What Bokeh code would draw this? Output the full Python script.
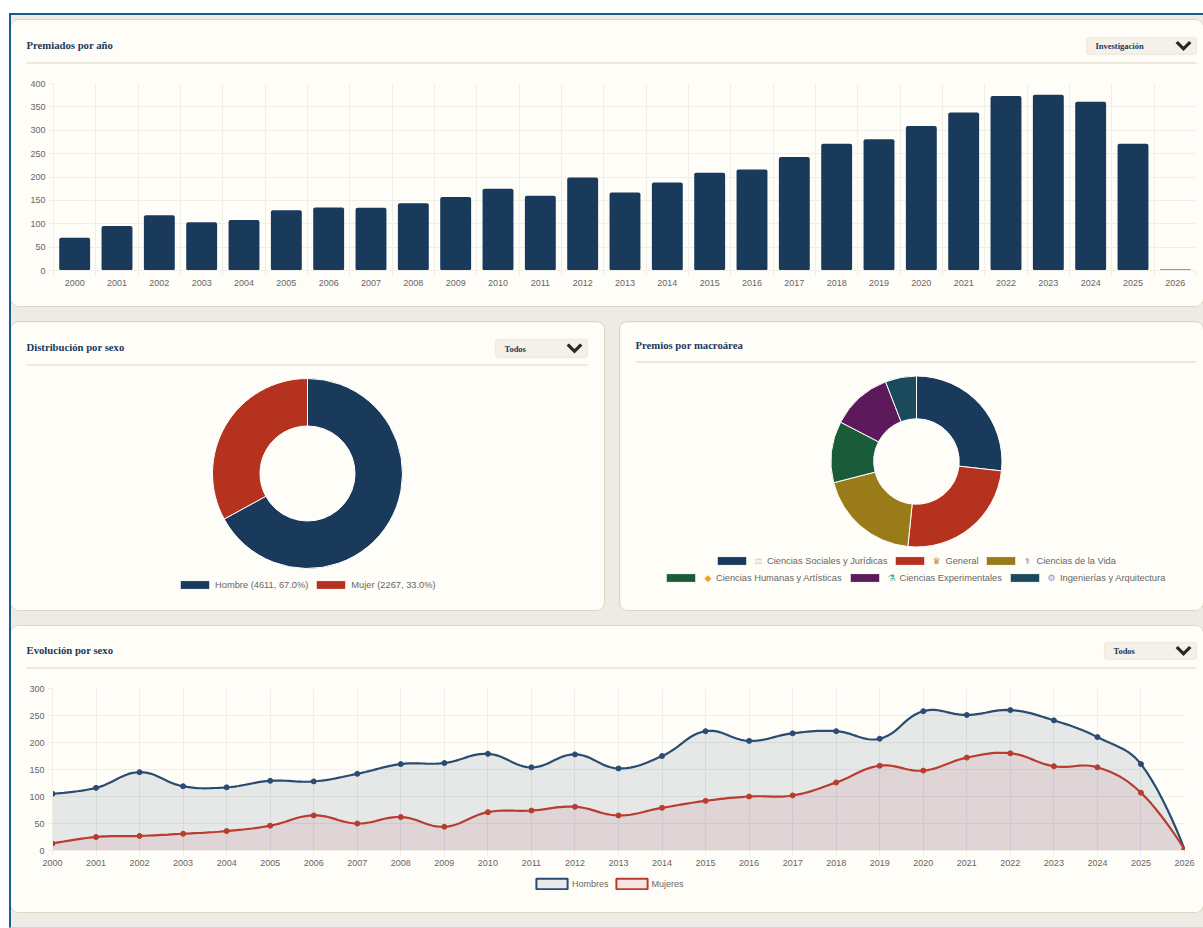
import numpy as np
from bokeh.embed import file_html
from bokeh.layouts import column, row
from bokeh.models import (BoxAnnotation, FixedTicker, Label, Legend, LegendItem,
                          PolyAnnotation, Range1d, NumeralTickFormatter)
from bokeh.plotting import figure
from bokeh.resources import INLINE

# ---------- data ----------
years = list(range(2000, 2027))
premiados = [70, 95, 118, 103, 108, 129, 135, 134, 144, 157, 175, 160, 199, 167, 188,
             209, 216, 243, 271, 281, 309, 338, 373, 376, 361, 271, 2]
hombres = [105, 116, 145, 119, 117, 129, 128, 142, 160, 162, 179, 154, 178, 152, 175,
           221, 203, 217, 221, 207, 258, 251, 260, 241, 210, 160, 2]
mujeres = [13, 25, 27, 31, 36, 46, 65, 50, 62, 44, 71, 74, 81, 65, 79,
           92, 100, 102, 126, 157, 148, 172, 180, 156, 154, 107, 2]
sexo_labels = ["Hombre (4611, 67.0%)", "Mujer (2267, 33.0%)"]
sexo_values = [4611, 2267]
area_labels = ["Ciencias Sociales y Jurídicas", "General", "Ciencias de la Vida",
               "Ciencias Humanas y Artísticas", "Ciencias Experimentales", "Ingenierías y Arquitectura"]
area_values = [1840, 1710, 1334, 798, 791, 405]
area_icons = ["⚖", "♛", "⚕", "◆", "⚗", "⚙"]
bar_yticks = [0, 50, 100, 150, 200, 250, 300, 350, 400]
line_yticks = [0, 50, 100, 150, 200, 250, 300]

NAVY, RED = "#1a3a5c", "#b5321f"
area_colors = [NAVY, RED, "#9a7b1a", "#1a5c3a", "#5c1a5c", "#1a4a5c"]
icon_colors = ["#e8bd85", "#c8862a", "#6f6fd0", "#e8a030", "#48a8a0", "#9a8ad0"]
sexo_colors = [NAVY, RED]
CARD, RULE, GRID, TXT = "#fffdf8", "#ddd5c2", "#efeee9", "#666666"
SERIF, SANS = "Liberation Serif", "Liberation Sans"
CARD_CSS = [":host{border-radius:8px;overflow:hidden;box-shadow:0 0 0 1px #ddd5c2}"]


def deco(p, fl, fb, title, tx, ty, rule_x0, rule_x1, rule_y, dd=None):
    """Title, rule and dropdown in page pixels; fl/fb are the frame's left and bottom on the page."""
    X = lambda v: v - fl
    Y = lambda v: fb - v
    p.add_layout(Label(x=X(tx), y=Y(ty), x_units="screen", y_units="screen", text=title,
                       text_font=SERIF, text_font_style="bold", text_font_size="10.7px",
                       text_color=NAVY, text_baseline="middle"))
    p.add_layout(BoxAnnotation(left=X(rule_x0), right=X(rule_x1), top=Y(rule_y), bottom=Y(rule_y + 1),
                               left_units="screen", right_units="screen", top_units="screen",
                               bottom_units="screen", fill_color=RULE, fill_alpha=1, line_alpha=0))
    if dd:
        x0, x1, y0, y1, text = dd
        p.add_layout(BoxAnnotation(left=X(x0), right=X(x1), top=Y(y0), bottom=Y(y1),
                                   left_units="screen", right_units="screen", top_units="screen",
                                   bottom_units="screen", fill_color="#f5f0e8", fill_alpha=1,
                                   line_color=RULE, line_width=1.5, border_radius=3))
        p.add_layout(Label(x=X(x0 + 9), y=Y((y0 + y1) / 2), x_units="screen", y_units="screen", text=text,
                           text_font=SERIF, text_font_style="bold", text_font_size="8.5px",
                           text_color=NAVY, text_baseline="middle"))
        cx, cy = x1 - 13, (y0 + y1) / 2
        xs = [cx - 8, cx - 5.5, cx, cx + 5.5, cx + 8, cx]
        ys = [cy - 3, cy - 5, cy + 0.5, cy - 5, cy - 3, cy + 5]
        p.add_layout(PolyAnnotation(xs=[X(v) for v in xs], ys=[Y(v) for v in ys],
                                    xs_units="screen", ys_units="screen",
                                    fill_color="#2b2620", fill_alpha=1, line_alpha=0))


def style_axes(p, yticks):
    for ax in (p.xaxis[0], p.yaxis[0]):
        ax.axis_line_color = GRID
        ax.major_tick_line_color = GRID
        ax.minor_tick_line_color = None
        ax.major_tick_out = 5
        ax.major_tick_in = 0
        ax.major_label_text_font = SANS
        ax.major_label_text_font_size = "9px"
        ax.major_label_text_color = TXT
    p.yaxis[0].ticker = FixedTicker(ticks=yticks)
    p.yaxis[0].major_label_standoff = 3
    p.xaxis[0].major_label_standoff = 4
    p.xaxis[0].formatter = NumeralTickFormatter(format="0")
    p.xgrid[0].grid_line_color = GRID
    p.ygrid[0].grid_line_color = GRID
    p.ygrid[0].ticker = FixedTicker(ticks=yticks)


def card_figure(w, h, l, r, t, b, xr, yr):
    return figure(width=w, height=h, x_range=xr, y_range=yr, output_backend="svg", toolbar_location=None,
                  min_border_left=l, min_border_right=r, min_border_top=t, min_border_bottom=b,
                  background_fill_color=CARD, border_fill_color=CARD, outline_line_color=None,
                  frame_align=False)


def strip(w, h):
    """A figure without axes whose frame fills it: it holds a card's header or footer."""
    p = figure(width=w, height=h, x_range=Range1d(0, 1), y_range=Range1d(0, 1), output_backend="svg",
               toolbar_location=None, min_border=0, background_fill_color=CARD, border_fill_color=CARD,
               outline_line_color=None, frame_align=False)
    p.axis.visible = False
    p.grid.visible = False
    return p


def smooth(xs, ys, sx, sy, t=0.4, n=12):
    """Chart.js-style tension curve through the given values, in a pixel-aspect metric."""
    xs, ys = np.array(xs, float), np.array(ys, float)
    N = len(xs)
    cx_prev, cy_prev, cx_next, cy_next = xs.copy(), ys.copy(), xs.copy(), ys.copy()
    for i in range(1, N - 1):
        d01 = np.hypot((xs[i] - xs[i - 1]) * sx, (ys[i] - ys[i - 1]) * sy)
        d12 = np.hypot((xs[i + 1] - xs[i]) * sx, (ys[i + 1] - ys[i]) * sy)
        tot = d01 + d12
        s01, s12 = (d01 / tot, d12 / tot) if tot else (0, 0)
        dx, dy = xs[i + 1] - xs[i - 1], ys[i + 1] - ys[i - 1]
        cx_prev[i], cy_prev[i] = xs[i] - t * s01 * dx, ys[i] - t * s01 * dy
        cx_next[i], cy_next[i] = xs[i] + t * s12 * dx, ys[i] + t * s12 * dy
    u = np.linspace(0, 1, n, endpoint=False)[:, None]
    px, py = [], []
    for i in range(N - 1):
        bx = (1 - u) ** 3 * xs[i] + 3 * (1 - u) ** 2 * u * cx_next[i] + 3 * (1 - u) * u ** 2 * cx_prev[i + 1] + u ** 3 * xs[i + 1]
        by = (1 - u) ** 3 * ys[i] + 3 * (1 - u) ** 2 * u * cy_next[i] + 3 * (1 - u) * u ** 2 * cy_prev[i + 1] + u ** 3 * ys[i + 1]
        px.extend(bx.ravel()); py.extend(by.ravel())
    px.append(xs[-1]); py.append(ys[-1])
    return np.array(px), np.array(py)


CARD_BG = {"background-color": CARD}

# ---------- bar chart ----------
h1 = strip(1192, 55)
deco(h1, 11, 75, "Premiados por año", 26, 44.5, 26, 1196, 62, (1086, 1196, 37, 54, "Investigación"))
p1 = card_figure(1192, 231, 42, 7, 8, 36, Range1d(1999.5, 2026.5), Range1d(0, 400))
p1.vbar(x=years, top=premiados, width=0.73, fill_color=NAVY, line_color=None, border_radius=2)
style_axes(p1, bar_yticks)
edges = [y - 0.5 for y in years] + [2026.5]
p1.xaxis[0].ticker = FixedTicker(ticks=years, minor_ticks=edges)
p1.xaxis[0].major_tick_line_color = None
p1.xaxis[0].minor_tick_line_color = GRID
p1.xaxis[0].minor_tick_out = 5
p1.xaxis[0].minor_tick_in = 0
p1.xgrid[0].ticker = FixedTicker(ticks=edges)
card1 = column(h1, p1, spacing=0, width=1192, height=286, stylesheets=CARD_CSS, styles=CARD_BG)


def donut(w, h, cx, cy, r, values, colors):
    """cx, cy: centre within the card in px, r: outer radius in px."""
    p = figure(width=w, height=h, x_range=Range1d(-cx / r, (w - cx) / r),
               y_range=Range1d(-(h - cy) / r, cy / r), output_backend="svg", toolbar_location=None,
               min_border=0, background_fill_color=CARD, border_fill_color=CARD, outline_line_color=None,
               stylesheets=CARD_CSS, frame_align=False)
    p.axis.visible = False
    p.grid.visible = False
    frac = np.cumsum(values) / np.sum(values)
    starts = np.pi / 2 - np.concatenate([[0], frac[:-1]]) * 2 * np.pi
    ends = np.pi / 2 - frac * 2 * np.pi
    rs = []
    for s, e, c in zip(starts, ends, colors):
        rs.append(p.annular_wedge(x=0, y=0, inner_radius=0.5, outer_radius=1, start_angle=s, end_angle=e,
                                  direction="clock", fill_color=c, line_color="white", line_width=1))
    return p, rs


def legend(p, renderers, labels, x, y, standoff, spacing, gw=37, gh=11, size="9.3px"):
    p.add_layout(Legend(items=[LegendItem(label=l, renderers=[r]) for l, r in zip(labels, renderers)],
                        location=(x, y), orientation="horizontal", glyph_width=gw, glyph_height=gh,
                        label_standoff=standoff, spacing=spacing, padding=0, margin=0,
                        label_text_font=SANS, label_text_font_size=size, label_text_color=TXT,
                        label_height=gh, background_fill_alpha=0, border_line_alpha=0))


# ---------- donut: sexo ----------
p2, r2 = donut(593, 288, 307 - 11, 473 - 322, 95, sexo_values, sexo_colors)
deco(p2, 11, 610, "Distribución por sexo", 26, 346.5, 26, 587, 364, (495, 587, 339, 357, "Todos"))
legend(p2, r2, sexo_labels, 165, 20, 2, 4)

# ---------- donut: macroárea ----------
p3, r3 = donut(583, 288, 916 - 620, 461 - 322, 85.5, area_values, area_colors)
deco(p3, 620, 610, "Premios por macroárea", 635, 344.5, 635, 1196, 361)
legend(p3, r3[:3], area_labels[:3], 93, 44, 17, 4)
legend(p3, r3[3:], area_labels[3:], 42, 27, 17, 4)
icon_xy = [(758, 560.5), (936, 560.5), (1027, 560.5), (707.5, 577.5), (891, 577.5), (1051, 577.5)]
for (ix, iy), ic, col in zip(icon_xy, area_icons, icon_colors):
    p3.add_layout(Label(x=ix - 620, y=610 - iy, x_units="screen", y_units="screen", text=ic,
                        text_font="DejaVu Sans", text_font_size="9px", text_color=col,
                        text_align="center", text_baseline="middle"))

# ---------- lines ----------
h4 = strip(1192, 55)
deco(h4, 11, 681, "Evolución por sexo", 26, 649.5, 26, 1196, 667, (1104, 1196, 642, 659, "Todos"))
p4 = card_figure(1192, 191, 41, 19, 7, 22, Range1d(2000, 2026), Range1d(0, 300))
sx, sy = 1132 / 26, 162 / 300
mx, my = smooth(years, hombres, sx, sy)
wx, wy = smooth(years, mujeres, sx, sy)
LINE_M, LINE_W = "#2a4c72", "#b83c30"
p4.varea(x=mx, y1=0, y2=my, fill_color="#1a4066", fill_alpha=0.11)
p4.varea(x=wx, y1=0, y2=wy, fill_color="#a8324f", fill_alpha=0.1)
p4.line(mx, my, line_color=LINE_M, line_width=2.2)
p4.scatter(years, hombres, size=5, fill_color=LINE_M, line_color=LINE_M)
p4.line(wx, wy, line_color=LINE_W, line_width=2.2)
p4.scatter(years, mujeres, size=5, fill_color=LINE_W, line_color=LINE_W)
style_axes(p4, line_yticks)
p4.xaxis[0].ticker = FixedTicker(ticks=years)
f4 = strip(1192, 40)
# the two legend swatches: glyphs that lie outside the strip's range, so only the legend shows them
sw_m = f4.quad(left=[2], right=[3], top=[3], bottom=[2], fill_color="#e7e9ea", line_color=LINE_M, line_width=2)
sw_w = f4.quad(left=[2], right=[3], top=[3], bottom=[2], fill_color="#f8e6e0", line_color=LINE_W, line_width=2)
legend(f4, [sw_m, sw_w], ["Hombres", "Mujeres"], 521, 22, 1, 3, gw=39, gh=13, size="9px")
card4 = column(h4, p4, f4, spacing=0, width=1192, height=286, stylesheets=CARD_CSS, styles=CARD_BG)

# ---------- page ----------
top = row(p2, p3, spacing=16)
root = column(card1, top, card4, spacing=16, width=1194, height=915,
              styles={"position": "absolute", "left": "9px", "top": "13px", "background-color": "#eeebe4",
                      "border-top": "2px solid #14618a", "border-left": "2px solid #14618a",
                      "border-bottom": "1px solid #ddd5c2", "padding-top": "5px",
                      "box-sizing": "border-box", "overflow": "hidden"})

open("out.html", "w").write(file_html(root, INLINE))
